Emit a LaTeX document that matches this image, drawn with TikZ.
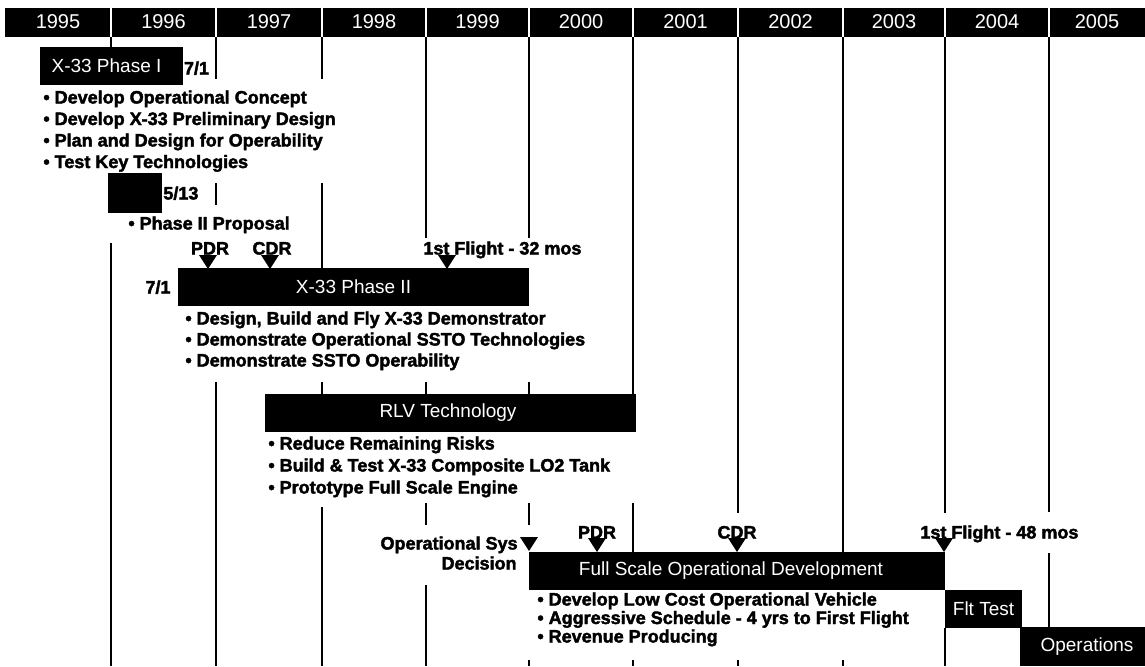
\documentclass[tikz,border=0pt]{standalone}
\usepackage{fontspec}
\setmainfont{Liberation Sans}
\newfontfamily\heavy[FakeBold=2.2]{Liberation Sans Bold}
\begin{document}
\begin{tikzpicture}[x=0.5pt,y=-0.5pt,
  gridline/.style={line width=1.3pt},
  hdrsep/.style={white,line width=0.6pt},
  bar/.style={fill=black,inner sep=0pt,text=white,font=\fontsize{9.5}{11}\selectfont},
  bartext/.style={text=white,inner sep=0pt,font=\fontsize{9.5}{11}\selectfont},
  yr/.style={text=white,inner sep=0pt,font=\fontsize{10}{12}\selectfont},
  bul/.style={anchor=base west,inner sep=0pt,font=\heavy\fontsize{9}{10}\selectfont},
  lab/.style={inner sep=0pt,font=\heavy\fontsize{9}{10}\selectfont},
  mstone/.style={fill=black}]
\useasboundingbox (0,0) rectangle (1145,666);
% vertical year lines
\foreach \x/\a/\b in {111/37/47, 111/243/666, 216/37/79, 216/183/205, 216/382/666,
  322/37/79, 322/183/268, 322/382/394, 322/507/666,
  426/37/238, 426/382/394, 426/503/525, 426/585/666,
  529/37/238, 529/382/394, 529/503/525, 529/660/666,
  633/37/394, 633/503/552, 633/660/666,
  738/37/513, 738/660/666, 843/37/552, 843/660/666,
  945/37/513, 945/628/666, 1049/37/512, 1049/553/627}
  \draw[gridline] (\x,\a) -- (\x,\b);
% header
\node[fill=black,minimum width=570pt,minimum height=14.5pt,inner sep=0pt] (hdr) at (575,22.5) {};
\foreach \x in {111,216,322,426,529,633,738,843,945,1049}
  \draw[hdrsep] (\x,8) -- (\x,37);
\node[yr] (y95) at (58,22) {1995};
\node[yr] (y96) at (163.5,22) {1996};
\node[yr] (y97) at (269,22) {1997};
\node[yr] (y98) at (374,22) {1998};
\node[yr] (y99) at (477.5,22) {1999};
\node[yr] (y00) at (581,22) {2000};
\node[yr] (y01) at (685.5,22) {2001};
\node[yr] (y02) at (790.5,22) {2002};
\node[yr] (y03) at (894,22) {2003};
\node[yr] (y04) at (997,22) {2004};
\node[yr] (y05) at (1097,22) {2005};
% X-33 Phase I
\node[bar,minimum width=71.5pt,minimum height=19pt] (p1) at (111.5,66) {};
\node[bartext] (p1t) at (106.5,66) {X-33 Phase I};
\node[lab,anchor=base] (d71a) at (196.5,74.5) {7/1};
\node[bul] (b11) at (43,103.5) {• Develop Operational Concept};
\node[bul] (b12) at (43,125) {• Develop X-33 Preliminary Design};
\node[bul] (b13) at (43,146.5) {• Plan and Design for Operability};
\node[bul] (b14) at (43,168) {• Test Key Technologies};
% proposal
\node[fill=black,minimum width=27pt,minimum height=20pt,inner sep=0pt] (blank) at (135,193) {};
\node[lab,anchor=base west] (d513) at (163,199.5) {5/13};
\node[bul] (b21) at (128,229.5) {• Phase II Proposal};
% X-33 Phase II
\node[lab,anchor=base] (pdr1) at (210,254.5) {PDR};
\node[lab,anchor=base] (cdr1) at (272,254.5) {CDR};
\node[lab,anchor=base west] (fl32) at (423,254.5) {1st Flight - 32 mos};
\fill[mstone] (199,255) -- (217,255) -- (208,269) -- cycle;
\fill[mstone] (261,255) -- (279,255) -- (270,269) -- cycle;
\fill[mstone] (438,255) -- (456,255) -- (447,269) -- cycle;
\node[bar,minimum width=175.5pt,minimum height=19pt] (p2) at (353.5,287) {X-33 Phase II};
\node[lab,anchor=base] (d71b) at (158,293.5) {7/1};
\node[bul] (b31) at (185,324.5) {• Design, Build and Fly X-33 Demonstrator};
\node[bul] (b32) at (185,345.5) {• Demonstrate Operational SSTO Technologies};
\node[bul] (b33) at (185,366.5) {• Demonstrate SSTO Operability};
% RLV Technology
\node[bar,minimum width=185.5pt,minimum height=19pt] (rlv) at (450.5,413) {};
\node[bartext] (rlvt) at (448,413) {RLV Technology};
\node[bul] (b41) at (268,449.5) {• Reduce Remaining Risks};
\node[bul] (b42) at (268,471.5) {• Build \& Test X-33 Composite LO2 Tank};
\node[bul] (b43) at (268,493.5) {• Prototype Full Scale Engine};
% Full Scale Operational Development
\node[lab,anchor=base east] (osd1) at (518,549.5) {Operational Sys};
\node[lab,anchor=base east] (osd2) at (517,569.5) {Decision};
\node[lab,anchor=base] (pdr2) at (597,538.5) {PDR};
\node[lab,anchor=base] (cdr2) at (737,538.5) {CDR};
\node[lab,anchor=base west] (fl48) at (920,538.5) {1st Flight - 48 mos};
\fill[mstone] (520,537) -- (538,537) -- (529,551) -- cycle;
\fill[mstone] (588,538) -- (606,538) -- (597,552) -- cycle;
\fill[mstone] (728,538) -- (746,538) -- (737,552) -- cycle;
\fill[mstone] (935,538) -- (953,538) -- (944,552) -- cycle;
\node[bar,minimum width=208pt,minimum height=19pt] (fsd) at (737,571) {};
\node[bartext] (fsdt) at (731,571) {Full Scale Operational Development};
\node[bul] (b51) at (537,605.5) {• Develop Low Cost Operational Vehicle};
\node[bul] (b52) at (537,624) {• Aggressive Schedule - 4 yrs to First Flight};
\node[bul] (b53) at (537,642.5) {• Revenue Producing};
\node[bar,minimum width=38.5pt,minimum height=19pt] (flt) at (983.5,609) {Flt Test};
\node[bar,minimum width=62.5pt,minimum height=19.5pt] (ops) at (1082.5,646.5) {};
\node[bartext] (opst) at (1087,646.5) {Operations};
\end{tikzpicture}
\end{document}
